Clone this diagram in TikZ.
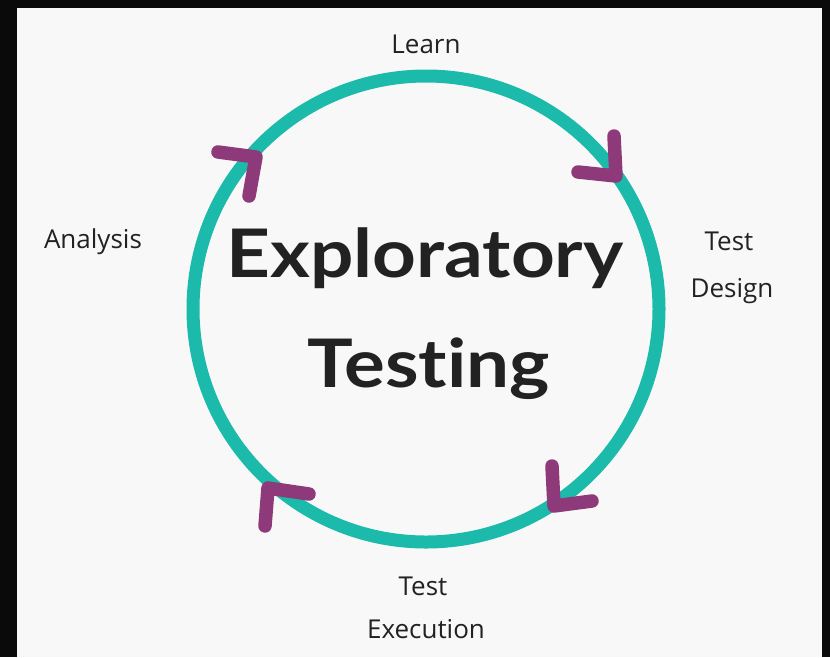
\documentclass[tikz,border=0pt]{standalone}
\usepackage{fontspec}
\setmainfont{Open Sans}
\newfontfamily\titlefont{Lato}[Ligatures={NoCommon}]
\definecolor{frame}{RGB}{10,10,10}
\definecolor{paper}{RGB}{248,248,248}
\definecolor{ringcol}{RGB}{28,186,170}
\definecolor{arrowcol}{RGB}{142,58,122}
\definecolor{ink}{RGB}{34,34,34}
\begin{document}
\begin{tikzpicture}[x=1pt,y=-1pt,
  ring/.style={draw=ringcol,line width=13pt},
  chevron/.style={draw=arrowcol,line width=13.5pt,line cap=round,line join=round},
  lbl/.style={anchor=base,inner sep=0pt,text=ink,font=\fontsize{26}{30}\selectfont},
  ttl/.style={anchor=base,inner sep=0pt,text=ink,font=\titlefont\bfseries\fontsize{67}{70}\selectfont,xscale=1.14}]
\useasboundingbox (0,0) rectangle (830,657);
\fill[frame] (0,0) rectangle (830,657);
\fill[paper] (17,8) rectangle (822,657);
\coordinate (c) at (426,309);
\draw[ring] (c) circle (233);
% chevrons
\draw[chevron] (578,172) -- (616,176) -- (614,136);
\draw[chevron] (552,466) -- (554,506) -- (592,501);
\draw[chevron] (265,526) -- (268,488) -- (309,494);
\draw[chevron] (218,152) -- (256,157) -- (249,196);
% labels
\node[lbl] (learn) at (426,53) {Learn};
\node[lbl] (analysis) at (93,248) {Analysis};
\node[lbl] (test1) at (729,250) {Test};
\node[lbl] (design) at (732,297) {Design};
\node[lbl] (test2) at (423,595) {Test};
\node[lbl] (execution) at (426,638) {Execution};
\node[ttl] (explo) at (425,277) {Exploratory};
\node[ttl] (testing) at (429,387) {Testing};
\end{tikzpicture}
\end{document}
